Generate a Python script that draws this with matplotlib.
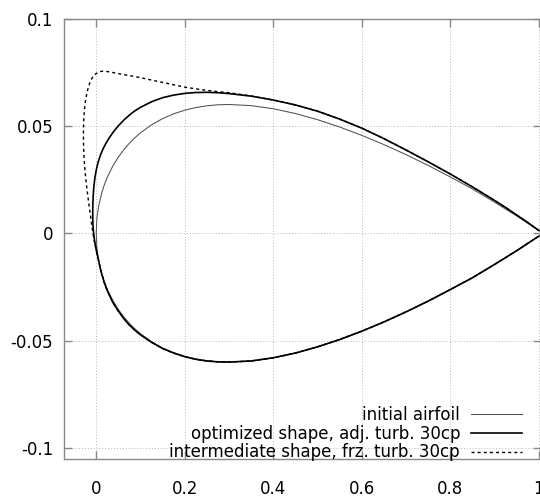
import matplotlib
matplotlib.use("Agg")
import matplotlib.pyplot as plt

# initial airfoil (upper surface, TE -> LE); lower surface is its mirror
init_x = [1.0, 0.975, 0.95, 0.9, 0.85, 0.8, 0.75, 0.7, 0.65, 0.6, 0.55, 0.5,
          0.45, 0.4, 0.35, 0.3, 0.275, 0.25, 0.225, 0.2, 0.175, 0.15, 0.125,
          0.1, 0.0875, 0.075, 0.0625, 0.05, 0.0375, 0.025, 0.01875, 0.0125,
          0.005, 0.0025, 0.001, 0.0]
init_y = [0.00126, 0.00472, 0.00807, 0.01448, 0.02065, 0.02623, 0.03160,
          0.03664, 0.04133, 0.04563, 0.04952, 0.05294, 0.05581, 0.05803,
          0.05949, 0.06002, 0.05987, 0.05941, 0.05860, 0.05737, 0.05569,
          0.05345, 0.05055, 0.04683, 0.04457, 0.04200, 0.03903, 0.03555,
          0.03137, 0.02615, 0.02290, 0.01894, 0.01221, 0.00872, 0.00556, 0.0]

# optimized shape, adjoint turbulence, 30 control points (TE -> upper -> LE -> lower -> TE)
opt_x = [1.0, 0.975, 0.95, 0.925, 0.9, 0.85, 0.8, 0.75, 0.7, 0.65, 0.6, 0.55,
         0.5, 0.45, 0.4, 0.35, 0.3, 0.275, 0.25, 0.225, 0.2, 0.175, 0.15,
         0.125, 0.1, 0.0875, 0.075, 0.0625, 0.05, 0.04, 0.03, 0.022, 0.015,
         0.009, 0.004, 0.0, -0.003, -0.0055, -0.007, -0.0078, -0.008, -0.0075,
         -0.0062, -0.0045, -0.002, 0.001, 0.005, 0.01, 0.0175, 0.025, 0.0375,
         0.05, 0.0625, 0.075, 0.0875, 0.1, 0.125, 0.15, 0.175, 0.2, 0.225,
         0.25, 0.275, 0.3, 0.35, 0.4, 0.45, 0.5, 0.55, 0.6, 0.65, 0.7, 0.75,
         0.8, 0.85, 0.9, 0.95, 0.975, 1.0]
opt_y = [0.0013, 0.0050, 0.0085, 0.0120, 0.0153, 0.0216, 0.0276, 0.0333,
         0.0388, 0.0441, 0.0490, 0.0532, 0.0569, 0.0598, 0.0621, 0.0639,
         0.0651, 0.0655, 0.0657, 0.0656, 0.0652, 0.0644, 0.0632, 0.0613,
         0.0587, 0.0571, 0.0551, 0.0528, 0.0501, 0.0476, 0.0447, 0.0420,
         0.0392, 0.0362, 0.0330, 0.0295, 0.0260, 0.0215, 0.0170, 0.0125,
         0.0080, 0.0040, 0.0005, -0.0025, -0.0058, -0.0088, -0.0124, -0.0172,
         -0.0226, -0.0268, -0.0322, -0.0363, -0.0398, -0.0428, -0.0452,
         -0.0473, -0.0508, -0.0537, -0.0558, -0.0575, -0.0587, -0.0595,
         -0.0599, -0.0600, -0.0595, -0.0580, -0.0558, -0.0529, -0.0495,
         -0.0456, -0.0413, -0.0366, -0.0316, -0.0262, -0.0207, -0.0145,
         -0.0081, -0.0047, -0.0013]

# intermediate shape, frozen turbulence, 30 control points
mid_x = [1.0, 0.975, 0.95, 0.925, 0.9, 0.85, 0.8, 0.75, 0.7, 0.65, 0.6, 0.55,
         0.5, 0.45, 0.4, 0.35, 0.3, 0.275, 0.25, 0.225, 0.2, 0.175, 0.15,
         0.125, 0.1, 0.08, 0.06, 0.045, 0.03, 0.02, 0.012, 0.004, -0.003,
         -0.009, -0.014, -0.018, -0.0215, -0.0245, -0.0268, -0.0282, -0.0289,
         -0.029, -0.0285, -0.0275, -0.026, -0.024, -0.0215, -0.0188, -0.016,
         -0.013, -0.010, -0.0075, -0.0045, -0.002, 0.001, 0.005, 0.01, 0.0175,
         0.025, 0.0375, 0.05, 0.0625, 0.075, 0.0875, 0.1, 0.125, 0.15, 0.175,
         0.2, 0.225, 0.25, 0.275, 0.3, 0.35, 0.4, 0.45, 0.5, 0.55, 0.6, 0.65,
         0.7, 0.75, 0.8, 0.85, 0.9, 0.95, 0.975, 1.0]
mid_y = [0.0013, 0.0050, 0.0085, 0.0120, 0.0153, 0.0216, 0.0276, 0.0333,
         0.0388, 0.0441, 0.0490, 0.0532, 0.0569, 0.0598, 0.0621, 0.0640,
         0.0655, 0.0660, 0.0666, 0.0673, 0.0681, 0.0692, 0.0703, 0.0714,
         0.0725, 0.0733, 0.0740, 0.0746, 0.0752, 0.0755, 0.0755, 0.0750,
         0.0740, 0.0725, 0.0705, 0.0680, 0.0650, 0.0615, 0.0575, 0.0530,
         0.0485, 0.0440, 0.0395, 0.0350, 0.0305, 0.0260, 0.0215, 0.0170,
         0.0125, 0.0080, 0.0035, 0.0000, -0.0035, -0.0058, -0.0088, -0.0124,
         -0.0172, -0.0226, -0.0268, -0.0322, -0.0363, -0.0398, -0.0428,
         -0.0452, -0.0473, -0.0508, -0.0537, -0.0558, -0.0575, -0.0587,
         -0.0595, -0.0599, -0.0600, -0.0595, -0.0580, -0.0558, -0.0529,
         -0.0495, -0.0456, -0.0413, -0.0366, -0.0316, -0.0262, -0.0207,
         -0.0145, -0.0081, -0.0047, -0.0013]

xticks = [0, 0.2, 0.4, 0.6, 0.8, 1.0]
xlabels = ['0', '0.2', '0.4', '0.6', '0.8', '1']
yticks = [-0.1, -0.05, 0, 0.05, 0.1]
ylabels = ['-0.1', '-0.05', '0', '0.05', '0.1']

plt.rcParams['font.family'] = 'DejaVu Sans'
plt.rcParams['font.size'] = 12

fig = plt.figure(figsize=(5.4, 4.97), dpi=100)
ax = fig.add_axes([0.119, 0.0759, 1.002 - 0.119, 0.9624 - 0.0759])

# whole closed contour of the initial airfoil
ix = init_x + init_x[::-1][1:]
iy = init_y + [-v for v in init_y[::-1][1:]]
ax.plot(ix, iy, color='#505050', lw=0.75, label='initial airfoil')
ax.plot(opt_x, opt_y, color='black', lw=1.2,
        label='optimized shape, adj. turb. 30cp')
ax.plot(mid_x, mid_y, color='black', lw=1.0, linestyle=(0, (2.2, 2.2)),
        label='intermediate shape, frz. turb. 30cp')

ax.set_xlim(-0.0723, 1.005)
ax.set_ylim(-0.1053, 0.1)
ax.set_xticks(xticks)
ax.set_xticklabels(xlabels)
ax.set_yticks(yticks)
ax.set_yticklabels(ylabels)

ax.grid(True, color='#b8b8b8', lw=0.7, linestyle=(0, (1, 2)))
for s in ax.spines.values():
    s.set_color('#888888')
    s.set_linewidth(1.0)
ax.tick_params(direction='in', length=6, width=1.0, color='#888888',
               top=True, right=True, labelsize=12)
ax.tick_params(axis='x', pad=15)
ax.tick_params(axis='y', pad=8)

ax.legend(loc='lower right', bbox_to_anchor=(0.960, -0.005), frameon=False,
          markerfirst=False, borderpad=0, borderaxespad=0, handlelength=3.06,
          handletextpad=0.66, labelspacing=0.05, fontsize=12)

fig.savefig('out.png', dpi=100)
